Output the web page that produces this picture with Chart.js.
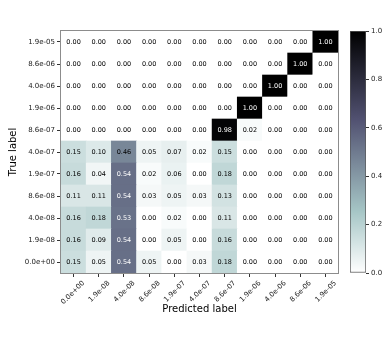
<!DOCTYPE html>
<html>
<head>
<meta charset="utf-8">
<script src="https://cdn.jsdelivr.net/npm/chart.js@4.4.1/dist/chart.umd.min.js"></script>
<style>
  body { margin: 0; background: #fff; }
  #wrap { position: relative; width: 390px; height: 339px; }
  #chart_1 { position: absolute; left: 0; top: 0; }
  #chart_2 { position: absolute; left: 345px; top: 0; }
</style>
</head>
<body>
<div id="wrap">
  <canvas id="chart_1" width="345" height="339"></canvas>
  <canvas id="chart_2" width="45" height="339"></canvas>
</div>
<script>
// labels for both axes (true labels go bottom -> top)
var predictedLabels = ['0.0e+00','1.9e-08','4.0e-08','8.6e-08','1.9e-07','4.0e-07','8.6e-07','1.9e-06','4.0e-06','8.6e-06','1.9e-05'];
var trueLabels = ['0.0e+00','1.9e-08','4.0e-08','8.6e-08','1.9e-07','4.0e-07','8.6e-07','1.9e-06','4.0e-06','8.6e-06','1.9e-05'];

// one row per true label, normalised confusion matrix
var row_0e00 = [0.15, 0.05, 0.54, 0.05, 0.00, 0.03, 0.18, 0.00, 0.00, 0.00, 0.00];
var row_19e08 = [0.16, 0.09, 0.54, 0.00, 0.05, 0.00, 0.16, 0.00, 0.00, 0.00, 0.00];
var row_40e08 = [0.16, 0.18, 0.53, 0.00, 0.02, 0.00, 0.11, 0.00, 0.00, 0.00, 0.00];
var row_86e08 = [0.11, 0.11, 0.54, 0.03, 0.05, 0.03, 0.13, 0.00, 0.00, 0.00, 0.00];
var row_19e07 = [0.16, 0.04, 0.54, 0.02, 0.06, 0.00, 0.18, 0.00, 0.00, 0.00, 0.00];
var row_40e07 = [0.15, 0.10, 0.46, 0.05, 0.07, 0.02, 0.15, 0.00, 0.00, 0.00, 0.00];
var row_86e07 = [0.00, 0.00, 0.00, 0.00, 0.00, 0.00, 0.98, 0.02, 0.00, 0.00, 0.00];
var row_19e06 = [0.00, 0.00, 0.00, 0.00, 0.00, 0.00, 0.00, 1.00, 0.00, 0.00, 0.00];
var row_40e06 = [0.00, 0.00, 0.00, 0.00, 0.00, 0.00, 0.00, 0.00, 1.00, 0.00, 0.00];
var row_86e06 = [0.00, 0.00, 0.00, 0.00, 0.00, 0.00, 0.00, 0.00, 0.00, 1.00, 0.00];
var row_19e05 = [0.00, 0.00, 0.00, 0.00, 0.00, 0.00, 0.00, 0.00, 0.00, 0.00, 1.00];

var rows = [row_0e00, row_19e08, row_40e08, row_86e08, row_19e07, row_40e07,
            row_86e07, row_19e06, row_40e06, row_86e06, row_19e05];

var colorbarTicks = [0, 0.2, 0.4, 0.6, 0.8, 1.0];

// matplotlib 'bone' colormap, reversed
function interp(pts, x) {
	for (var k = 1; k < pts.length; k++) {
		if (x <= pts[k][0]) {
			var t = (x - pts[k-1][0]) / (pts[k][0] - pts[k-1][0]);
			return pts[k-1][1] + t * (pts[k][1] - pts[k-1][1]);
		}
	}
	return pts[pts.length-1][1];
}
function boneR(v) {
	var x = 1 - Math.max(0, Math.min(1, v));
	var r = interp([[0,0],[0.746032,0.652778],[1,1]], x);
	var g = interp([[0,0],[0.365079,0.319444],[0.746032,0.777778],[1,1]], x);
	var b = interp([[0,0],[0.365079,0.444444],[1,1]], x);
	return 'rgb(' + Math.round(r*255) + ',' + Math.round(g*255) + ',' + Math.round(b*255) + ')';
}

var tickFont = {family: 'DejaVu Sans', size: 7};
var titleFont = {family: 'DejaVu Sans', size: 10};

// each true label is one stacked dataset of unit-height cells
var datasets = rows.map(function(row, i) {
	return {
		label: trueLabels[i],
		data: row.map(function() { return 1; }),
		backgroundColor: row.map(boneR),
		borderWidth: 0,
		barPercentage: 1,
		categoryPercentage: 1
	};
});

var cellText = {
	id: 'cellText',
	afterDatasetsDraw: function(chart) {
		var ctx = chart.ctx;
		ctx.save();
		ctx.font = '6.5px "DejaVu Sans"';
		ctx.textAlign = 'center';
		ctx.textBaseline = 'middle';
		chart.data.datasets.forEach(function(ds, i) {
			chart.getDatasetMeta(i).data.forEach(function(bar, j) {
				var v = rows[i][j];
				ctx.fillStyle = v > 0.5 ? '#ffffff' : '#000000';
				ctx.fillText(v.toFixed(2), bar.x, (bar.y + bar.base) / 2);
			});
		});
		ctx.restore();
	},
	afterDraw: function(chart) {
		var a = chart.chartArea, ctx = chart.ctx;
		ctx.save();
		ctx.strokeStyle = '#8c8c8c';
		ctx.lineWidth = 1;
		ctx.strokeRect(Math.round(a.left) - 0.5, Math.round(a.top) - 0.5,
			Math.round(a.right - a.left) + 1, Math.round(a.bottom - a.top) + 1);
		ctx.restore();
	}
};

var ctx_1 = document.getElementById('chart_1').getContext('2d');
var chart_1 = new Chart(ctx_1, {
	type: 'bar',
	data: {labels: predictedLabels, datasets: datasets},
	plugins: [cellText],
	options: {
		responsive: false,
		animation: false,
		layout: {padding: {top: 31, right: 7, left: 0, bottom: 0}},
		plugins: {legend: {display: false}, tooltip: {enabled: false}},
		scales: {
			x: {
				stacked: true,
				afterFit: function(s) { s.height = 66; },
				grid: {drawOnChartArea: false, offset: false, tickLength: 4, color: '#333'},
				border: {display: false},
				ticks: {font: tickFont, color: '#222', autoSkip: false,
					minRotation: 45, maxRotation: 45, labelOffset: 10, padding: 2},
				title: {display: true, text: 'Predicted label', font: titleFont,
					color: '#000', padding: {top: 0, bottom: 24}}
			},
			y: {
				stacked: true,
				min: 0, max: 11,
				afterFit: function(s) { s.width = 61; },
				afterBuildTicks: function(s) {
					s.ticks = trueLabels.map(function(_, i) { return {value: i + 0.5}; });
				},
				grid: {drawOnChartArea: false, tickLength: 4, color: '#333'},
				border: {display: false},
				ticks: {font: tickFont, color: '#222', padding: 2,
					callback: function(v, i) { return trueLabels[i]; }},
				title: {display: true, text: 'True label', font: titleFont,
					color: '#000', padding: {top: 7, bottom: 0}}
			}
		}
	}
});

// colour bar
var ctx_2 = document.getElementById('chart_2').getContext('2d');
var chart_2 = new Chart(ctx_2, {
	type: 'bar',
	data: {
		labels: [''],
		datasets: [{
			data: [1],
			barPercentage: 1,
			categoryPercentage: 1,
			borderWidth: 1,
			borderColor: '#555',
			borderSkipped: false,
			backgroundColor: function(c) {
				var area = c.chart.chartArea;
				if (!area) return '#fff';
				var g = c.chart.ctx.createLinearGradient(0, area.bottom, 0, area.top);
				[0, 0.253968, 0.634921, 1].forEach(function(s) { g.addColorStop(s, boneR(s)); });
				return g;
			}
		}]
	},
	options: {
		responsive: false,
		animation: false,
		layout: {padding: {top: 31, left: 5, right: 0, bottom: 66}},
		plugins: {legend: {display: false}, tooltip: {enabled: false}},
		scales: {
			x: {display: false},
			y: {
				position: 'right',
				min: 0, max: 1,
				afterFit: function(s) { s.width = 24; },
				afterBuildTicks: function(s) {
					s.ticks = colorbarTicks.map(function(v) { return {value: v}; });
				},
				grid: {drawOnChartArea: false, tickLength: 3, color: '#333'},
				border: {display: false},
				ticks: {font: tickFont, color: '#222', padding: 2,
					callback: function(v) { return v.toFixed(1); }}
			}
		}
	}
});
</script>
</body>
</html>
